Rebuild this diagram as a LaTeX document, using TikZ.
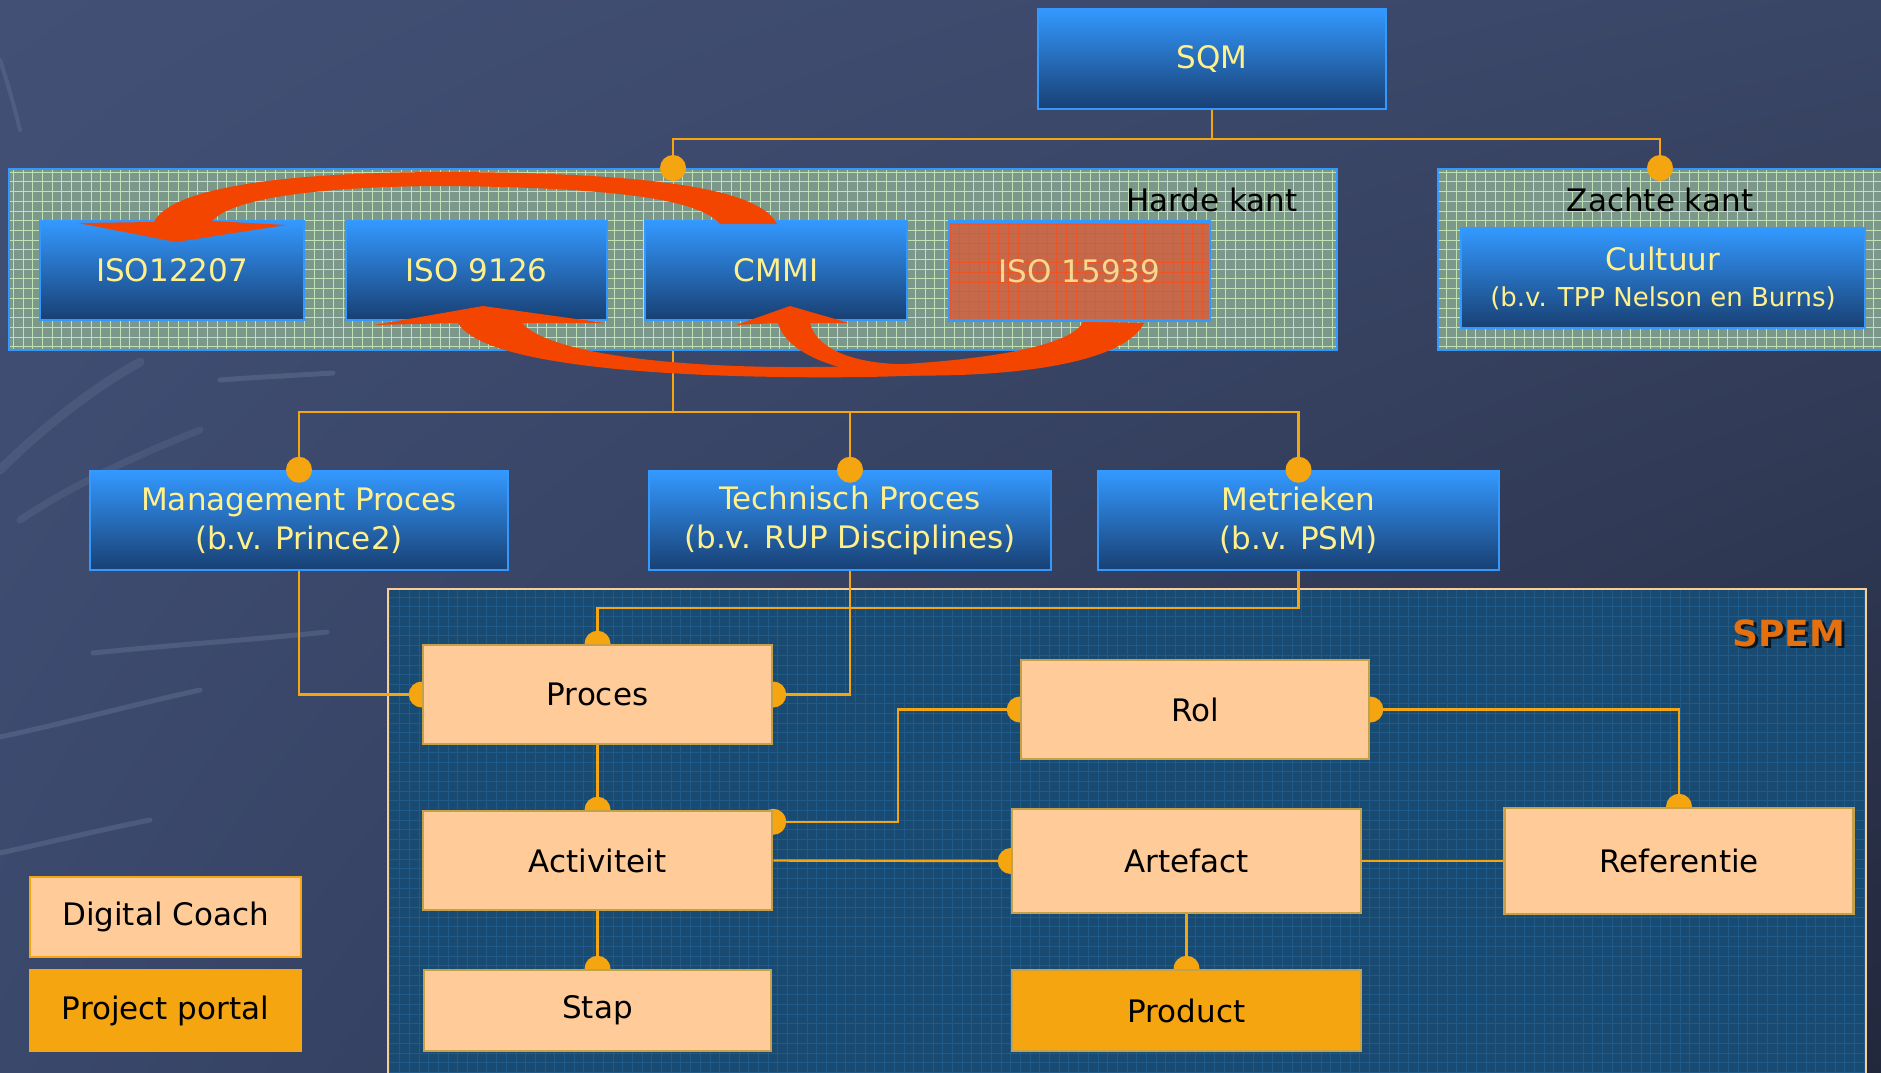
\documentclass[tikz,border=0pt]{standalone}
\usepackage{fontspec}
\setmainfont{DejaVu Sans}
\usetikzlibrary{calc,shadings}
\pgfdeclarelayer{back}
\pgfdeclarelayer{lines}
\pgfdeclarelayer{front}
\pgfsetlayers{back,lines,main,front}

\definecolor{bgUL}{RGB}{66,80,118}
\definecolor{bgUR}{RGB}{58,70,102}
\definecolor{bgLL}{RGB}{58,72,108}
\definecolor{bgLR}{RGB}{34,40,60}
\definecolor{streakc}{RGB}{175,195,215}
\definecolor{boxtop}{RGB}{51,153,255}
\definecolor{boxmid}{RGB}{38,108,185}
\definecolor{boxbot}{RGB}{24,64,115}
\definecolor{txty}{RGB}{255,240,140}
\definecolor{txtiso}{RGB}{248,216,140}
\definecolor{panelg}{RGB}{124,152,138}
\definecolor{gridg}{RGB}{190,226,180}
\definecolor{isored}{RGB}{198,104,74}
\definecolor{gridr}{RGB}{236,84,36}
\definecolor{spemfill}{RGB}{24,74,114}
\definecolor{spemgrid}{RGB}{32,90,136}
\definecolor{spemedge}{RGB}{250,205,150}
\definecolor{peach}{RGB}{255,204,153}
\definecolor{gold}{RGB}{196,160,72}
\definecolor{orng}{RGB}{245,165,16}
\definecolor{arrowred}{RGB}{243,68,0}
\definecolor{spemtxt}{RGB}{228,112,16}

\tikzset{
  mainfont/.style={font=\fontsize{31}{39}\selectfont},
  bluebox/.style={draw=boxtop, line width=2.5, top color=boxtop, bottom color=boxbot,
    middle color=boxmid, text=txty, align=center, inner sep=0, mainfont},
  greenpanel/.style={draw=boxtop, line width=2, fill=panelg, inner sep=0,
    path picture={\draw[gridg, line width=0.9] (path picture bounding box.south west)
      grid[step=9.7pt] (path picture bounding box.north east);}},
  isobox/.style={draw=boxtop, line width=2.5, fill=isored, inner sep=0, text=txtiso, mainfont,
    path picture={\draw[gridr, line width=1] (path picture bounding box.south west)
      grid[step=9.7pt] (path picture bounding box.north east);}},
  spempanel/.style={draw=spemedge, line width=2, fill=spemfill, inner sep=0,
    path picture={\draw[spemgrid, line width=0.8] (path picture bounding box.south west)
      grid[step=9.7pt] (path picture bounding box.north east);}},
  peachbox/.style={draw=gold, line width=2.5, fill=peach, text=black, inner sep=0, mainfont},
  prodbox/.style={draw=gold, line width=2.5, fill=orng, text=black, inner sep=0, mainfont},
  legbox/.style={draw=orng, line width=2.5, fill=peach, text=black, inner sep=0, mainfont},
  legbox2/.style={draw=orng, line width=2.5, fill=orng, text=black, inner sep=0, mainfont},
  conn/.style={draw=orng, line width=2.4},
  redarrow/.style={fill=arrowred, draw=none},
  streak/.style={streakc, opacity=0.16, line width=5, line cap=round}
}

\begin{document}
\begin{tikzpicture}[x=1pt,y=-1pt]
\useasboundingbox (0,0) rectangle (1881,1072);

\begin{pgfonlayer}{back}
  \shade[upper left=bgUL, upper right=bgUR, lower left=bgLL, lower right=bgLR]
    (0,0) rectangle (1881,1072);
  % faint background wisps
  \draw[streak] (0,737) .. controls (70,722) and (140,703) .. (200,690);
  \draw[streak] (93,653) .. controls (170,645) and (250,640) .. (327,632);
  \draw[streak] (220,380) .. controls (260,377) and (300,375) .. (333,373);
  \draw[streak] (0,853) .. controls (50,842) and (100,830) .. (150,820);
  \draw[streak, line width=9, opacity=0.10] (0,470) .. controls (40,430) and (90,390) .. (140,362);
  \draw[streak, line width=7, opacity=0.10] (20,520) .. controls (80,480) and (150,450) .. (200,430);
  \draw[streak, line width=4, opacity=0.12] (0,60) .. controls (10,90) and (15,110) .. (20,130);

  \node[greenpanel, minimum width=1328, minimum height=181] (harde) at (673,259.5) {};
  \node[greenpanel, minimum width=444, minimum height=181] (zachte) at (1660,259.5) {};
  \node[spempanel, minimum width=1478, minimum height=501] (spempan) at (1127,839.5) {};
\end{pgfonlayer}

% top part
\node[bluebox, minimum width=348, minimum height=100] (sqm) at (1212,59) {SQM};
\node[mainfont, text=black] (hardelbl) at (1212,200) {Harde kant};
\node[mainfont, text=black] (zachtelbl) at (1660,200) {Zachte kant};
\node[bluebox, minimum width=264, minimum height=99] (iso12207) at (172,270.5) {ISO12207};
\node[bluebox, minimum width=261, minimum height=99] (iso9126) at (476.5,270.5) {ISO 9126};
\node[bluebox, minimum width=262, minimum height=99] (cmmi) at (776,270.5) {CMMI};
\node[isobox, minimum width=261, minimum height=99] (iso15939) at (1079.5,271) {ISO 15939};
\node[bluebox, minimum width=404, minimum height=100, font=\fontsize{31}{36}\selectfont] (cultuur) at (1663,278)
  {Cultuur\\{\fontsize{26}{30}\selectfont (b.v. TPP Nelson en Burns)}};

% second row
\node[bluebox, minimum width=418, minimum height=99] (mgmt) at (299,520.5) {Management Proces\\(b.v. Prince2)};
\node[bluebox, minimum width=402, minimum height=99] (tech) at (850,520.5) {Technisch Proces\\(b.v. RUP Disciplines)};
\node[bluebox, minimum width=401, minimum height=99] (metr) at (1298.5,520.5) {Metrieken\\(b.v. PSM)};

% SPEM
\node[text=black, opacity=0.7, font=\bfseries\fontsize{36}{40}\selectfont] (spemshadow) at (1791.5,635.5) {SPEM};
\node[text=spemtxt, font=\bfseries\fontsize{36}{40}\selectfont] (spemlbl) at (1789,633) {SPEM};
\node[peachbox, minimum width=349, minimum height=99] (proces) at (597.5,694.5) {Proces};
\node[peachbox, minimum width=349, minimum height=99] (activ) at (597.5,860.5) {Activiteit};
\node[peachbox, minimum width=347, minimum height=81] (stap) at (597.5,1010.5) {Stap};
\node[peachbox, minimum width=348, minimum height=99] (rol) at (1195,709.5) {Rol};
\node[peachbox, minimum width=349, minimum height=104] (artef) at (1186.5,861) {Artefact};
\node[peachbox, minimum width=349, minimum height=106] (ref) at (1679,861) {Referentie};
\node[prodbox, minimum width=349, minimum height=81] (product) at (1186.5,1010.5) {Product};

% legend
\node[legbox, minimum width=271, minimum height=80] (legdc) at (165.5,917) {Digital Coach};
\node[legbox2, minimum width=271, minimum height=81] (legpp) at (165.5,1010.5) {Project portal};

\begin{pgfonlayer}{lines}
  \draw[conn] (sqm.south) -- ++(0,29) -| (harde.north);
  \draw[conn] (sqm.south) -- ++(0,29) -| (zachte.north);
  \draw[conn] (harde.south) -- ++(0,61) -| (mgmt.north);
  \draw[conn] (harde.south) -- ++(0,61) -| (tech.north);
  \draw[conn] (harde.south) -- ++(0,61) -| (metr.north);
  \draw[conn] (metr.south) -- ++(0,37) -| (proces.north);
  \draw[conn] (tech.south) |- (proces.east);
  \draw[conn] (mgmt.south) |- (proces.west);
  \draw[conn] (proces.south) -- (activ.north);
  \coordinate (actr) at ($(activ.north east)+(0,12)$);
  \draw[conn] (actr) -- ++(124.5,0) |- (rol.west);
  \draw[conn] (activ.east) -- (artef.west);
  \draw[conn] (rol.east) -| (ref.north);
  \draw[conn] (artef.east) -- (ref.west);
  \draw[conn] (artef.south) -- (product.north);
  \draw[conn] (activ.south) -- (stap.north);
  \foreach \p in {proces.north, proces.east, proces.west, activ.north, actr, rol.west,
                  rol.east, ref.north, artef.west, product.north, stap.north}
    \fill[orng] (\p) circle (13pt);
\end{pgfonlayer}

\begin{pgfonlayer}{front}
  \foreach \p in {harde.north, zachte.north, mgmt.north, tech.north, metr.north}
    \fill[orng] (\p) circle (13pt);
  % arrow CMMI -> ISO12207
  \fill[redarrow] (777,224) .. controls (760,190) and (660,173) .. (450,172)
     .. controls (270,172) and (170,190) .. (154,222)
     -- (78,223) -- (176,242) -- (286,225) -- (212,221)
     .. controls (230,200) and (310,186) .. (450,186)
     .. controls (620,188) and (700,200) .. (720,224) -- cycle;
  % arrow ISO15939 -> ISO 9126
  \fill[redarrow] (1144,323) .. controls (1120,372) and (920,379) .. (784,377)
     .. controls (620,375) and (480,360) .. (458,323)
     -- (374,325) -- (483,306) -- (605,323) -- (522,323)
     .. controls (545,350) and (650,366) .. (784,367)
     .. controls (950,368) and (1070,350) .. (1083,322) -- cycle;
  % arrow ISO15939 -> CMMI
  \fill[redarrow] (1144,323) .. controls (1120,370) and (980,378) .. (892,375)
     .. controls (830,372) and (785,350) .. (778,323)
     -- (736,325) -- (790,306) -- (849,323) -- (810,323)
     .. controls (815,345) and (845,362) .. (897,364)
     .. controls (1000,366) and (1075,345) .. (1083,322) -- cycle;
\end{pgfonlayer}
\end{tikzpicture}
\end{document}
